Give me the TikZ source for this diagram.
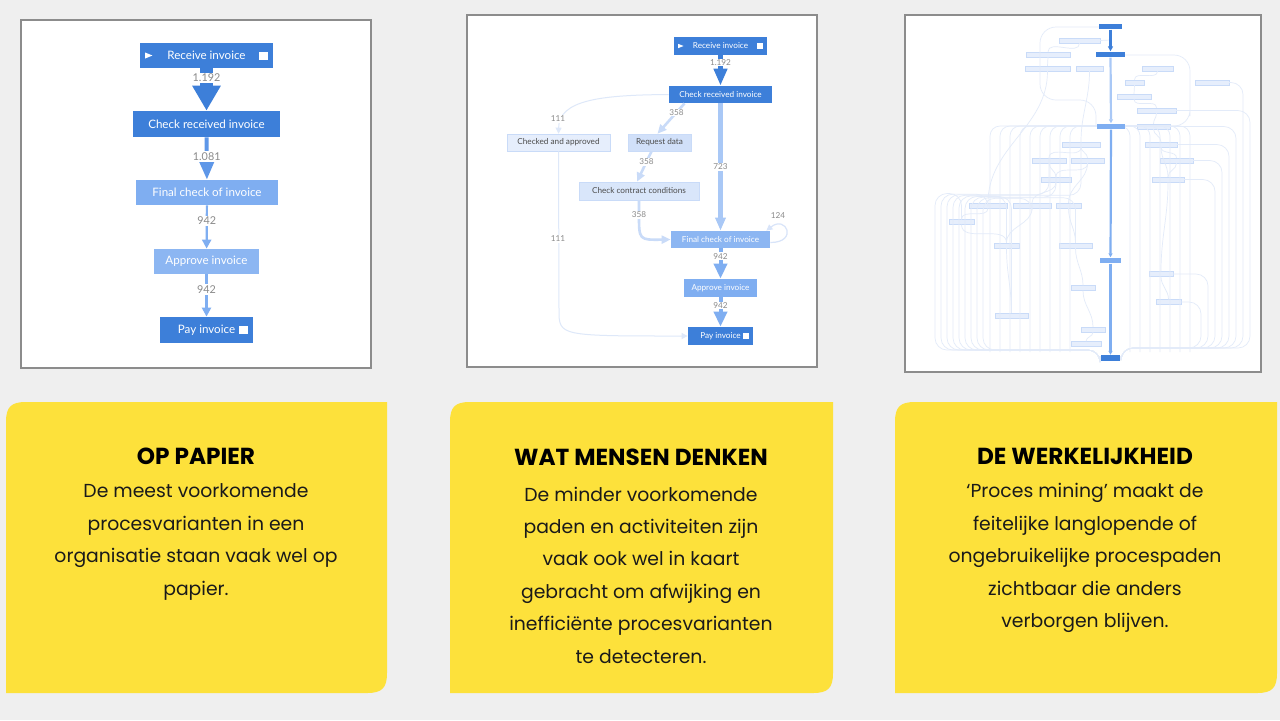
\documentclass[tikz,border=0pt]{standalone}
\usepackage{fontspec}
\setmainfont{Lato}
\newfontfamily\cardfont{Poppins}
\usetikzlibrary{arrows.meta,positioning,calc}

\definecolor{bgGray}{HTML}{EFEFEF}
\definecolor{frameGray}{HTML}{8C8C8C}
\definecolor{yel}{HTML}{FDE13B}
\definecolor{dkblue}{HTML}{3D7FD9}
\definecolor{mdblue}{HTML}{5E97E8}
\definecolor{ltblue}{HTML}{7FAEF1}
\definecolor{skyblue}{HTML}{A9C8F6}
\definecolor{paleblue}{HTML}{C9DBF8}
\definecolor{ghostfill}{HTML}{E6EEFC}
\definecolor{ghostline}{HTML}{E3EBF9}
\definecolor{numgray}{HTML}{8A8A8A}
\definecolor{inktext}{HTML}{1A1A1A}

\tikzset{
	panel/.style={draw=frameGray, line width=0.9pt, fill=white},
	act/.style={inner sep=0pt, text=white, font=\fontsize{5.8}{6}\selectfont},
	actsm/.style={inner sep=0pt, text=white, font=\fontsize{4.1}{5}\selectfont},
	actpale/.style={actsm, text=black!70, draw=paleblue, line width=0.3pt},
	numlbl/.style={fill=white, inner sep=0.6pt, text=numgray, font=\fontsize{5.4}{6}\selectfont},
	numsm/.style={fill=white, inner sep=0.4pt, text=numgray, font=\fontsize{4.1}{5}\selectfont},
	flow/.style={line width=#1, line cap=butt},
	faint/.style={draw=ghostline, line width=0.35pt},
	ghostbox/.style={fill=ghostfill, draw=paleblue, line width=0.2pt, inner sep=0pt, minimum height=2.5pt},
	ttl/.style={text=black, font=\cardfont\fontsize{11.6}{13}\selectfont\bfseries},
	body/.style={text=inktext, align=center, font=\cardfont\fontsize{9.4}{16.2}\selectfont},
}

\begin{document}
\begin{tikzpicture}[x=0.5pt,y=-0.5pt]
\useasboundingbox (0,0) rectangle (1280,720);
\fill[bgGray] (0,0) rectangle (1280,720);

% ---- panel 1: op papier
\draw[panel] (21,20) rectangle (371,368);
\node[act, fill=dkblue, minimum width=66.5pt, minimum height=12.5pt] (recv1) at (206.5,55.5) {Receive invoice};
\node[act, fill=dkblue, minimum width=73.5pt, minimum height=13pt] (check1) at (206.5,124) {Check received invoice};
\node[act, fill=ltblue, minimum width=71pt, minimum height=12.5pt] (final1) at (207,192.5) {Final check of invoice};
\node[act, fill=ltblue!90!white, minimum width=52.5pt, minimum height=12.5pt] (appr1) at (206.5,261.5) {Approve invoice};
\node[act, fill=dkblue, minimum width=46.5pt, minimum height=13pt] (pay1) at (206.5,330) {Pay invoice\hspace{9pt}};
\fill[white] ([xshift=2.8pt,yshift=1.5pt]recv1.west) -- ++(0pt,-3pt) -- ++(3.6pt,1.5pt) -- cycle;
\fill[white] ([xshift=-2.5pt,yshift=-2pt]recv1.east) rectangle ++(-4.5pt,4pt);
\fill[white] ([xshift=-2.5pt,yshift=-2pt]pay1.east) rectangle ++(-4.5pt,4pt);

\draw[flow=6.5pt, dkblue, -{Triangle[width=13.5pt,length=12.5pt]}] (recv1) -- (check1) node[numlbl, pos=0.23] {1.192};
\draw[flow=2pt, mdblue, -{Triangle[width=7.5pt,length=9.5pt]}] (check1) -- (final1) node[numlbl, pos=0.45] {1.081};
\draw[flow=1.1pt, ltblue, -{Triangle[width=4.5pt,length=4.5pt]}] (final1) -- (appr1) node[numlbl, pos=0.36] {942};
\draw[flow=1.1pt, ltblue, -{Triangle[width=4.5pt,length=4.5pt]}] (appr1) -- (pay1) node[numlbl, pos=0.36] {942};

% ---- panel 2: wat mensen denken
\draw[panel] (467,15) rectangle (817,367);
\node[actsm, fill=dkblue, minimum width=46.5pt, minimum height=9pt] (recv2) at (720.5,46) {Receive invoice};
\node[actsm, fill=dkblue, minimum width=51.5pt, minimum height=8.5pt] (check2) at (720.5,94.5) {Check received invoice};
\node[actpale, fill=ghostfill, minimum width=51.5pt, minimum height=8.5pt] (cap2) at (558.5,142.5) {Checked and approved};
\node[actpale, fill=paleblue!85!white, minimum width=31.5pt, minimum height=8.5pt] (req2) at (659.5,142.5) {Request data};
\node[actpale, fill=paleblue!70!white, minimum width=60pt, minimum height=9pt] (ccc2) at (639,191) {Check contract conditions};
\node[actsm, fill=ltblue!90!white, minimum width=49.5pt, minimum height=8.5pt] (final2) at (720.5,239.5) {Final check of invoice};
\node[actsm, fill=ltblue, minimum width=36.5pt, minimum height=9pt] (appr2) at (720.5,288) {Approve invoice};
\node[actsm, fill=dkblue, minimum width=32.5pt, minimum height=9pt] (pay2) at (720.5,336) {Pay invoice\hspace{6pt}};
\fill[white] ([xshift=2.2pt,yshift=1.1pt]recv2.west) -- ++(0pt,-2.2pt) -- ++(2.8pt,1.1pt) -- cycle;
\fill[white] ([xshift=-2pt,yshift=-1.5pt]recv2.east) rectangle ++(-3pt,3pt);
\fill[white] ([xshift=-2pt,yshift=-1.5pt]pay2.east) rectangle ++(-3pt,3pt);

\draw[flow=2.5pt, dkblue, -{Triangle[width=6.5pt,length=8.5pt]}] (recv2) -- (check2) node[numsm, pos=0.23] {1.192};
\draw[flow=2.5pt, skyblue, -{Triangle[width=5pt,length=6.5pt]}] (check2) -- (final2) node[numsm, pos=0.5] {723};
\draw[flow=2pt, ltblue, -{Triangle[width=6.5pt,length=7.5pt]}] (final2) -- (appr2) node[numsm, pos=0.26] {942};
\draw[flow=2pt, ltblue, -{Triangle[width=6.5pt,length=7.5pt]}] (appr2) -- (pay2) node[numsm, pos=0.27] {942};
\draw[flow=1.3pt, paleblue, -{Triangle[width=4pt,length=4.5pt]}] ([xshift=-18pt]check2.south) -- ([xshift=-1pt]req2.north) node[numsm, pos=0.3] {358};
\draw[flow=1.3pt, paleblue, -{Triangle[width=4pt,length=4.5pt]}] ([xshift=-4pt]req2.south) -- ([xshift=-1pt]ccc2.north) node[numsm, pos=0.35] {358};
\draw[flow=1.3pt, paleblue, -{Triangle[width=4pt,length=4.5pt]}] (ccc2.south) -- (639,215) .. controls (639,240) .. (final2.west);
\node[numsm] (n358c) at (639,215) {358};
\draw[flow=0.5pt, ghostline!80!paleblue, -{Triangle[width=3pt,length=3pt]}] (check2.west) .. controls (600,95) and (559,100) .. (cap2.north);
\node[numsm] (n111a) at (558,119) {111};
\draw[flow=0.5pt, ghostline!80!paleblue, -{Triangle[width=3pt,length=3pt]}] (cap2.south) -- (559,310) .. controls (559,336) .. (pay2.west);
\node[numsm] (n111b) at (558,239) {111};
\draw[flow=0.6pt, ghostline!60!paleblue, -{Triangle[width=3pt,length=3pt]}] ([yshift=-1.5pt]final2.east) .. controls +(14pt,0pt) and +(10pt,8pt) .. ([xshift=-2pt]final2.north east);
\node[numsm] (n124) at (778,216) {124};

% ---- panel 3: de werkelijkheid
\draw[panel] (905,15) rectangle (1261,372);
\foreach \gx/\gy/\gw [count=\i] in {1079.5/40.5/41, 1048/54.5/44, 1047.5/68.5/45, 1089.5/68.5/27,
	1157.5/68.5/31, 1134.5/82.5/19, 1212/82.5/34, 1134/96.5/34, 1156.5/110.5/39, 1153.5/126.5/33,
	1081/144.5/38, 1161/144.5/32, 1049/160.5/34, 1087.5/160.5/33, 1176.5/160.5/33, 1056/179.5/30,
	1168/179.5/32, 988/205.5/38, 1032/205.5/38, 1068.5/205.5/25, 961.5/222/25, 1006.5/245.5/25,
	1075.5/245.5/33, 1161/274/24, 1083/288/24, 1168.5/302/25, 1011.5/315.5/33, 1093/329.5/24,
	1086/344/30}
	\node[ghostbox, minimum width=\gw/2*1pt] (g\i) at (\gx,\gy) {};

% outer loops
\foreach \src/\xx in {g21/935, g18/941, g13/947, g11/953, g22/959, g27/965, g16/971, g23/977, g19/983}
	\draw[faint, rounded corners=6pt] (\src.north) |- (\xx,100+\xx/10) -- (\xx,350) -| (1100,356);
\foreach \src/\xx in {g7/1243, g10/1236, g12/1229, g15/1222, g17/1215, g24/1208, g26/1201, g9/1250}
	\draw[faint, rounded corners=6pt] (\src.east) -| (\xx,348) -| (1121,356);
\foreach \xx in {990,1000,1010,1020,1030,1040,1050,1060,1070,1130,1140,1150,1160,1170,1180,1190}
	\draw[faint, rounded corners=5pt] (1111,126) -| (\xx,200) -- (\xx,352);
\foreach \a/\b in {g1/g2, g2/g3, g3/g18, g4/g11, g5/g6, g6/g8, g8/g9, g9/g10, g10/g12, g11/g13,
	g11/g14, g12/g15, g13/g16, g14/g20, g16/g19, g17/g24, g18/g21, g19/g22, g20/g23, g22/g27,
	g23/g25, g24/g26, g25/g28, g28/g29, g15/g17, g14/g16, g21/g22, g12/g17}
	\draw[faint] (\a.south) to[out=-90,in=90] (\b.north);
\draw[faint] (g1.east) to[out=0,in=180] (1110,40);
\draw[faint, rounded corners=8pt] (1100,27) -| (1040,60) -- (1040,100) -| (1096,126);
\draw[faint, rounded corners=8pt] (1125,55) -| (1190,100) |- (1126,126);

\node[inner sep=0pt, fill=dkblue, minimum width=11.5pt, minimum height=2.8pt] (m1) at (1110.5,26.5) {};
\node[inner sep=0pt, fill=dkblue, minimum width=14.5pt, minimum height=2.8pt] (m2) at (1110.5,54.5) {};
\node[inner sep=0pt, fill=ltblue, minimum width=14pt, minimum height=2.8pt] (m3) at (1111,126.5) {};
\node[inner sep=0pt, fill=ltblue, minimum width=10.5pt, minimum height=2.8pt] (m4) at (1110.5,260.5) {};
\node[inner sep=0pt, fill=dkblue, minimum width=9.5pt, minimum height=2.8pt] (m5) at (1110.5,358) {};
\draw[flow=1.4pt, dkblue, -{Triangle[width=2.5pt,length=2.5pt]}] (m1) -- (m2);
\draw[flow=1.1pt, skyblue, -{Triangle[width=2pt,length=2pt]}] (m2) -- (m3);
\draw[flow=1.1pt, ltblue, -{Triangle[width=2pt,length=2pt]}] (m3) -- (m4);
\draw[flow=1.1pt, ltblue, -{Triangle[width=2pt,length=2pt]}] (m4) -- (m5);

% ---- yellow text cards
\fill[yel] (6,693) -- (6,422) .. controls (6,407) and (11,402) .. (26,402) -- (387,402) -- (387,673) .. controls (387,688) and (382,693) .. (367,693) -- cycle;
\fill[yel] (450,693) -- (450,422) .. controls (450,407) and (455,402) .. (470,402) -- (833,402) -- (833,673) .. controls (833,688) and (828,693) .. (813,693) -- cycle;
\fill[yel] (895,693) -- (895,422) .. controls (895,407) and (900,402) .. (915,402) -- (1277,402) -- (1277,673) .. controls (1277,688) and (1272,693) .. (1257,693) -- cycle;

\node[ttl] (t1) at (196,456) {OP PAPIER};
\node[body] (b1) at (196,542) {De meest voorkomende\\procesvarianten in een\\organisatie staan vaak wel op\\papier.};
\node[ttl] (t2) at (641,457) {WAT MENSEN DENKEN};
\node[body] (b2) at (641,575) {De minder voorkomende\\paden en activiteiten zijn\\vaak ook wel in kaart\\gebracht om afwijking en\\inefficiënte procesvarianten\\te detecteren.};
\node[ttl] (t3) at (1085,456) {DE WERKELIJKHEID};
\node[body] (b3) at (1085,558) {‘Proces mining’ maakt de\\feitelijke langlopende of\\ongebruikelijke procespaden\\zichtbaar die anders\\verborgen blijven.};

\end{tikzpicture}
\end{document}
